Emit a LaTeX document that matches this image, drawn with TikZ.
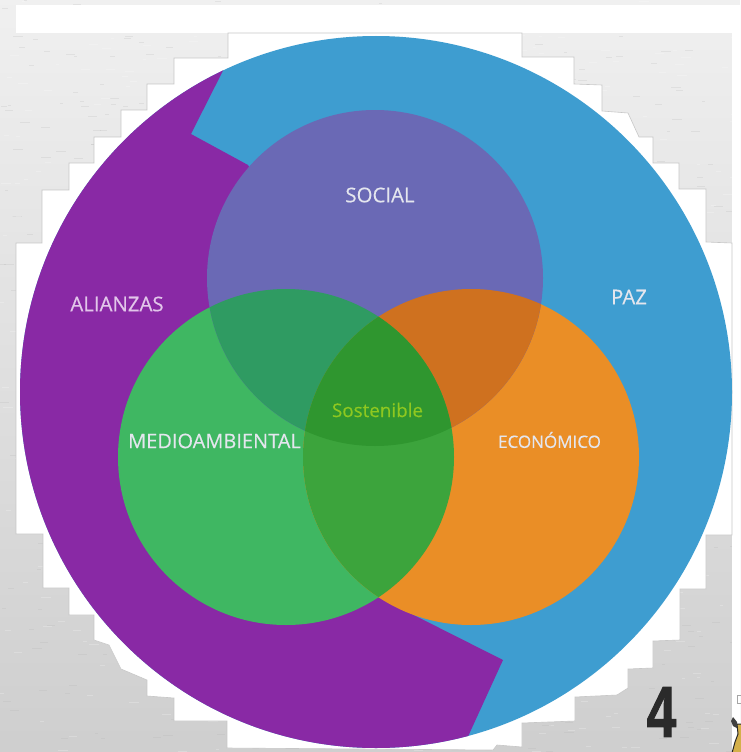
\documentclass[tikz,border=0pt]{standalone}
\usepackage{fontspec}
\setmainfont[FakeBold=0.35]{Open Sans}
\newfontfamily\numfont[FakeBold=1.6]{Liberation Sans Bold}
\definecolor{cpurple}{HTML}{8929A5}
\definecolor{cblue}{HTML}{3E9DD0}
\definecolor{csocial}{HTML}{6A69B5}
\definecolor{cgreen}{HTML}{3FB762}
\definecolor{corange}{HTML}{EA8E26}
\definecolor{csg}{HTML}{2F9B62}
\definecolor{cso}{HTML}{CF711F}
\definecolor{cge}{HTML}{3CA43C}
\definecolor{ccenter}{HTML}{2F962F}
\definecolor{ctxt}{HTML}{E4E6EE}
\definecolor{calz}{HTML}{E2C6EA}
\definecolor{csost}{HTML}{8EC820}
\tikzset{
  lbl/.style={font=\fontsize{20.4}{20.4}\selectfont, text=ctxt, inner sep=0pt, anchor=center},
  streak/.style={line width=0.5pt, opacity=0.22}
}
\newcommand{\cSocial}{(375,278) circle[radius=168]}
\newcommand{\cMedio}{(286,457) circle[radius=168]}
\newcommand{\cEcon}{(471,457) circle[radius=168]}
\newcommand{\cOuter}{(376,392) circle[radius=356]}
\begin{document}
\begin{tikzpicture}[x=1pt,y=-1pt]
\useasboundingbox (0,0) rectangle (740,752);
% paper background
\shade[top color=black!6, middle color=black!9, bottom color=black!19] (0,0) rectangle (740,752);
\begin{scope}
\clip (0,0) rectangle (740,752);
\pgfmathsetseed{4217}
\foreach \i in {1,...,1400}{
  \pgfmathsetmacro{\px}{random(0,735)}
  \pgfmathsetmacro{\py}{random(0,752)}
  \pgfmathsetmacro{\pl}{random(3,10)}
  \ifodd\i
    \draw[streak,white] (\px,\py) -- ++(\pl,0);
  \else
    \draw[streak,black!30] (\px,\py) -- ++(\pl,0);
  \fi
}
\end{scope}
% white band and strip
\fill[white] (16,5) rectangle (740,33);
\fill[white] (732,33) rectangle (740,752);
% stepped white halo
\filldraw[fill=white,draw=black!22,line width=0.6pt]
 (228,33)--(228,58)--(174,58)--(174,84)--(147,84)--(147,110)--(121,110)--(121,137)--(94,137)--(94,163)--(69,163)--(69,190)--(42,190)--(42,243)--(16,243)
 --(16,534)--(43,534)--(43,588)--(69,588)--(69,615)--(94,615)--(94,640)--(109,645)--(121,669)--(147,680)--(147,696)--(174,698)--(174,721)--(227,721)--(227,748)
 --(493,750)--(497,745)--(522,747)--(522,723)--(575,721)--(575,697)--(617,695)--(628,688)--(628,669)--(653,668)--(653,641)--(680,640)--(680,589)--(706,589)--(706,535)--(732,535)
 --(732,243)--(706,242)--(706,189)--(679,189)--(679,163)--(653,163)--(653,137)--(639,137)--(628,113)--(602,111)--(602,85)--(574,84)--(574,57)--(522,57)--(522,33)--cycle;
% outer disc
\fill[cblue] \cOuter;
\begin{scope}
  \clip \cOuter;
  \fill[cpurple] (240,37)--(191,134)--(248,165)--(375,400)--(378,597)--(503,660)--(455,765)--(0,765)--(0,0)--(240,0)--cycle;
\end{scope}
% three circles
\fill[cgreen] \cMedio;
\fill[corange] \cEcon;
\fill[csocial] \cSocial;
% overlaps
\begin{scope}\clip \cSocial; \fill[csg] \cMedio; \fill[cso] \cEcon; \end{scope}
\begin{scope}\clip \cMedio; \fill[cge] \cEcon; \end{scope}
\begin{scope}\clip \cSocial; \clip \cMedio; \fill[ccenter] \cEcon; \end{scope}
% labels
\node[lbl] (social) at (380,195) {SOCIAL};
\node[lbl,font=\fontsize{20}{20}\selectfont] (medio) at (214.5,441) {MEDIOAMBIENTAL};
\node[lbl,font=\fontsize{17}{17}\selectfont] (econ) at (549.5,440) {ECONÓMICO};
\node[lbl,text=calz] (alianzas) at (117,304) {ALIANZAS};
\node[lbl] (paz) at (629,297) {PAZ};
\node[lbl,text=csost,font=\fontsize{18.8}{18.8}\selectfont] (sost) at (377.5,410) {Sostenible};
% page number
\node[inner sep=0pt,text={rgb,255:red,42;green,42;blue,42},xscale=0.74,transform shape] (num) at (661.5,712)
  {\numfont\fontsize{72}{72}\selectfont 4};
% small figure in the corner
\draw[black!35,line width=0.7pt] (737.5,695) rectangle (741,703);
\filldraw[fill={rgb,255:red,212;green,176;blue,74},draw=black!85,line width=1pt]
  (737,724)--(742,724)--(742,753)--(732,753)--(735,742)--(738,734)--cycle;
\fill[black!75] (733,717)--(737,722)--(737,728)--(733,726)--(731,721)--cycle;
\end{tikzpicture}
\end{document}
